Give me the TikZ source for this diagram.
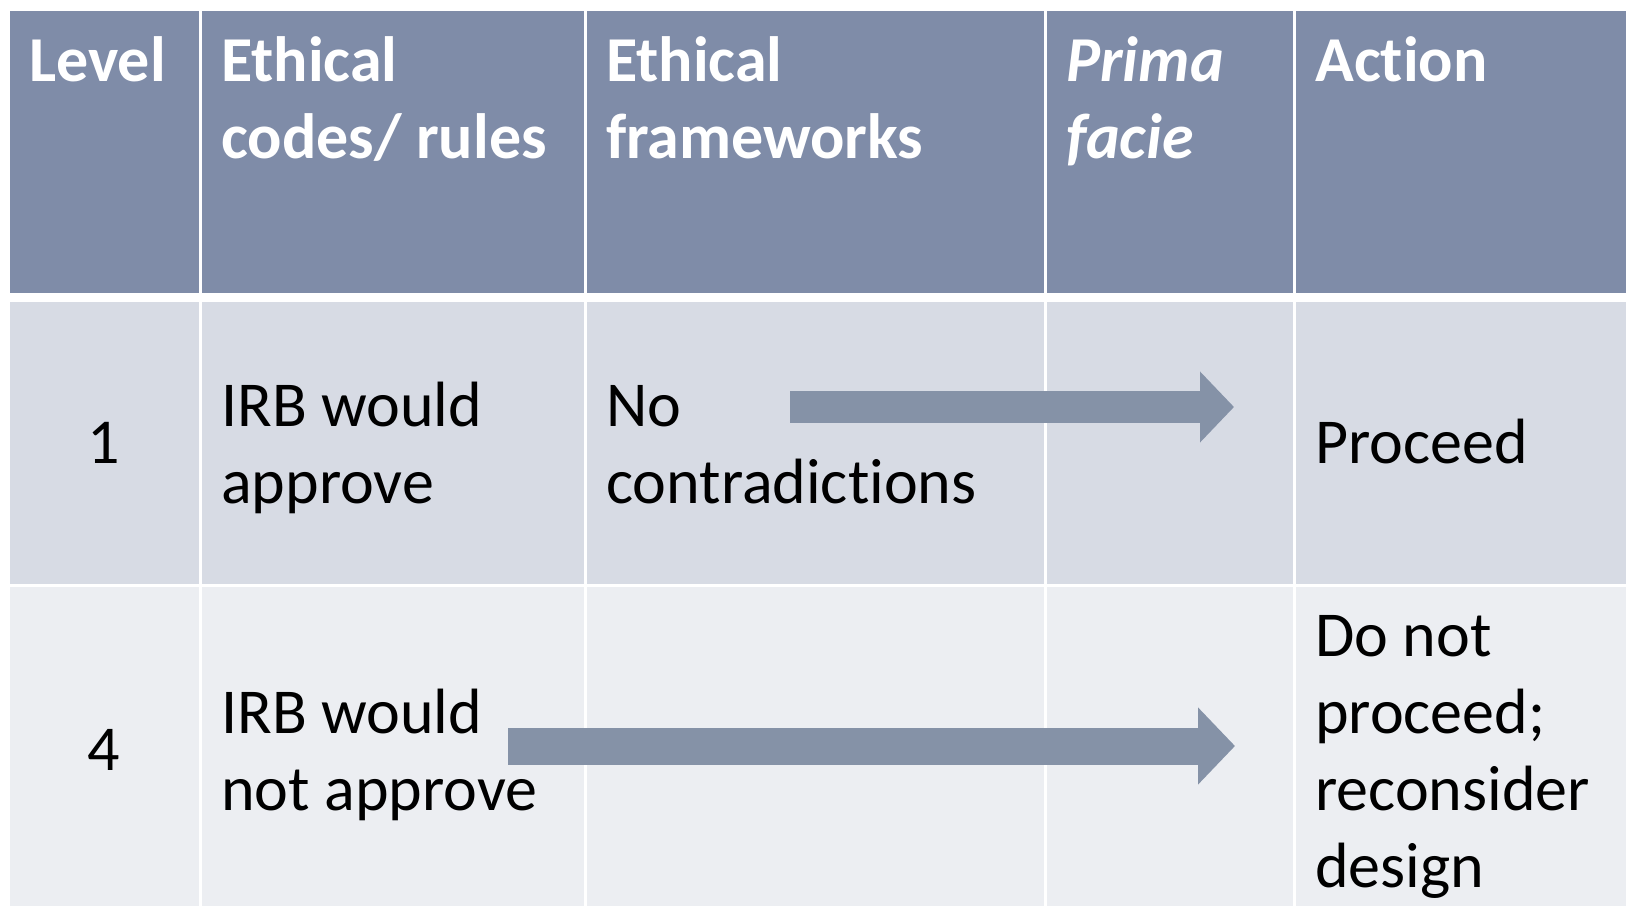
\documentclass[tikz,border=0pt]{standalone}
\usepackage{fontspec}
\setmainfont[Ligatures = NoCommon]{Carlito}
\usepackage{xcolor}
\usepackage{tikz}
\usetikzlibrary{arrows.meta}

\definecolor{headfill}{HTML}{7F8CA8}
\definecolor{rowone}{HTML}{D7DBE4}
\definecolor{rowtwo}{HTML}{ECEEF2}
\definecolor{arrowfill}{HTML}{8592A7}
\newcommand{\cellfont}{\fontsize{48}{57.75}\selectfont}

\begin{document}
\begin{tikzpicture}[
  x = 0.75pt, y = -0.75pt,
  cell/.style = {anchor = base west, inner sep = 0pt, align = left, font = \cellfont},
  headcell/.style = {cell, text = white, font = \cellfont\bfseries},
  fatarrow/.style = {draw = arrowfill, line cap = butt}
  ]
  \useasboundingbox[fill = white] (0,0) rectangle (1626,906);
  % table cells
  \foreach \xa/\xb in {10/199, 202/584, 587/1044, 1047/1293, 1296/1626} {
    \fill[headfill] (\xa,11) rectangle (\xb,293);
    \fill[rowone] (\xa,302) rectangle (\xb,584);
    \fill[rowtwo] (\xa,587) rectangle (\xb,906);
  }
  % header (base = last line)
  \node[headcell] (level) at (29,81) {Level};
  \node[headcell] (codes) at (221,158) {Ethical\\codes/ rules};
  \node[headcell] (frame) at (606,158) {Ethical\\frameworks};
  \node[headcell] (prima) at (1066,158) {\itshape Prima\\\itshape facie};
  \node[headcell] (action) at (1315,81) {Action};
  % level 1
  \node[cell, anchor = base] (one) at (104,463) {1};
  \node[cell] (irbyes) at (221,503) {IRB would\\approve};
  \node[cell] (nocontra) at (606,503) {No\\contradictions};
  \node[cell] (proceed) at (1315,463) {Proceed};
  % level 4
  \node[cell, anchor = base] (four) at (104,770) {4};
  \node[cell] (irbno) at (221,810) {IRB would\\not approve};
  \node[cell] (stop) at (1315,887) {Do not\\proceed;\\reconsider\\design};
  % arrows
  \coordinate (a1s) at (790,407);
  \coordinate (a1e) at (1234,407);
  \coordinate (a2s) at (508,746);
  \coordinate (a2e) at (1235,746);
  \draw[fatarrow, line width = 24pt, -{Triangle[width = 51.75pt, length = 25.5pt]}] (a1s) -- (a1e);
  \draw[fatarrow, line width = 27.75pt, -{Triangle[width = 56.25pt, length = 27.75pt]}] (a2s) -- (a2e);
\end{tikzpicture}
\end{document}
